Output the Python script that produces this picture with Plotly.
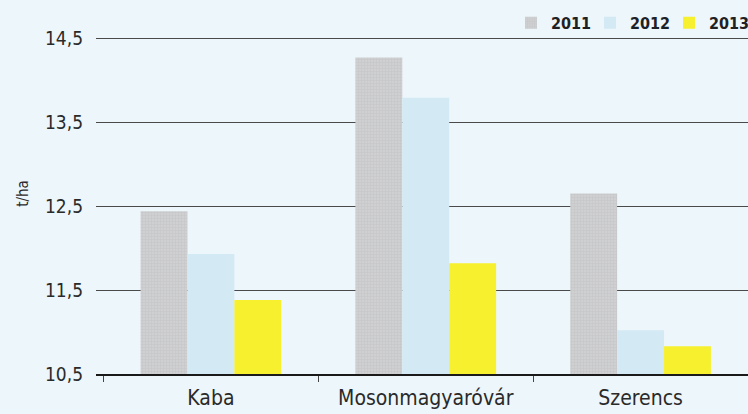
import plotly.graph_objects as go

categories = ["Kaba", "Mosonmagyaróvár", "Szerencs"]
years = ["2011", "2012", "2013"]
values_2011 = [12.44, 14.27, 12.65]
values_2012 = [11.93, 13.79, 11.02]
values_2013 = [11.38, 11.82, 10.83]
y_ticks = [10.5, 11.5, 12.5, 13.5, 14.5]
y_tick_labels = ["10,5", "11,5", "12,5", "13,5", "14,5"]

series = [values_2011, values_2012, values_2013]
colors = ["#c9cacb", "#d3e9f4", "#f7f02e"]

FONT = "DejaVu Sans Condensed"

fig = go.Figure()
for name, vals, col in zip(years, series, colors):
    marker = dict(color=col, line=dict(width=0))
    if name == "2011":
        marker["pattern"] = dict(shape="+", size=3, solidity=0.25,
                                 fgcolor="#b4b6b8", bgcolor="#cfd0d1")
    fig.add_trace(go.Bar(
        x=categories, y=[v - 10.5 for v in vals], base=10.5, name=name,
        marker=marker, customdata=vals,
        hovertemplate="%{x}: %{customdata}<extra>" + name + "</extra>",
    ))

fig.update_layout(
    width=748, height=414,
    margin=dict(l=96, r=0, t=13, b=40, autoexpand=False),
    paper_bgcolor="#edf6fa", plot_bgcolor="#edf6fa",
    barmode="group", bargap=0.345, bargroupgap=0,
    font=dict(family=FONT, color="#2a2a2a"),
    showlegend=True,
    legend=dict(
        orientation="h", x=0.6365, xanchor="left", y=1.02, yanchor="top",
        font=dict(family=FONT, size=16, color="#1e2124", weight="bold"),
        bgcolor="rgba(0,0,0,0)", entrywidth=34, itemwidth=30,
        traceorder="normal",
    ),
    xaxis=dict(
        range=[-0.535, 2.5], showgrid=False, showline=True,
        linecolor="#1a1a1a", linewidth=2, ticks="outside", ticklen=6,
        tickcolor="#444", tickwidth=1, tickson="boundaries",
        tickfont=dict(family=FONT, size=21, color="#2a2a2a"),
        ticklabelstandoff=4,
        fixedrange=True,
    ),
    yaxis=dict(
        range=[10.5, 14.8], tickvals=y_ticks, ticktext=y_tick_labels,
        showgrid=True, gridcolor="#4a4a4a", gridwidth=1,
        zeroline=False, showline=False, ticks="",
        tickfont=dict(family=FONT, size=19, color="#2a2a2a"),
        ticklabelstandoff=12,
        title=dict(text="t/ha", font=dict(family=FONT, size=15, color="#2a2a2a"),
                   standoff=12),
        fixedrange=True,
    ),
)

fig.write_html("out.html", config={"displayModeBar": False},
               post_script="document.body.style.margin='0';")
